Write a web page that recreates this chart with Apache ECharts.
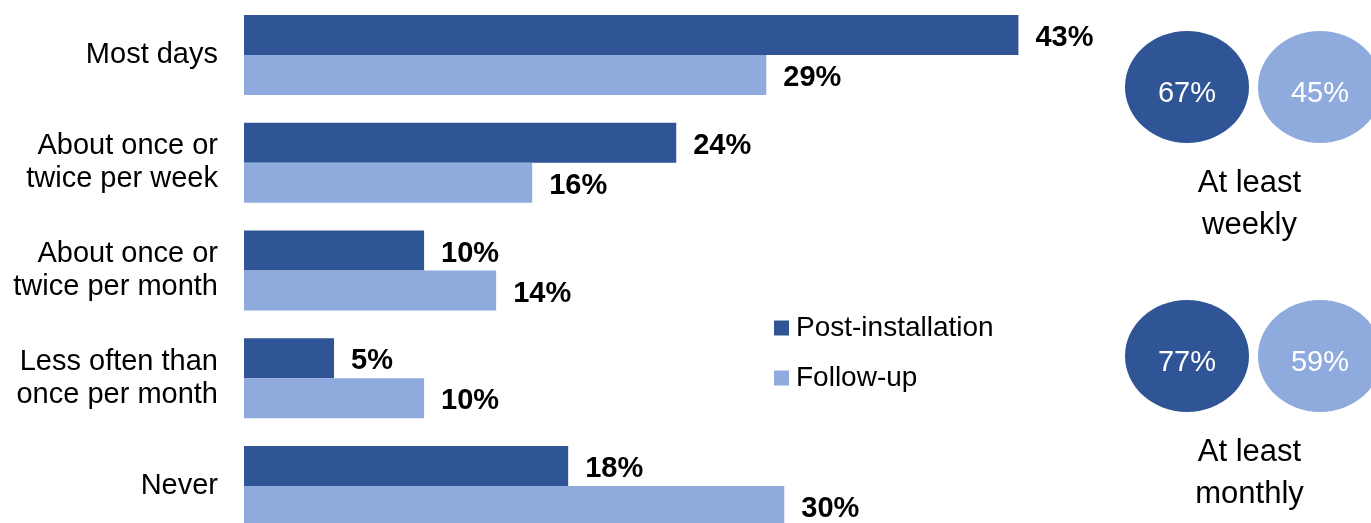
<!DOCTYPE html>
<html>
<head>
<meta charset="utf-8">
<script src="https://cdn.jsdelivr.net/npm/echarts@6/dist/echarts.min.js"></script>
<style>
  html, body { margin: 0; padding: 0; background: #ffffff; }
  #chart { width: 1371px; height: 523px; }
</style>
</head>
<body>
<div id="chart"></div>
<script>
// Frequency categories (top to bottom)
const categories = [
  'Most days',
  'About once or\ntwice per week',
  'About once or\ntwice per month',
  'Less often than\nonce per month',
  'Never'
];

// Share of respondents (%) per frequency
const postInstallation = [43, 24, 10, 5, 18];
const followUp = [29, 16, 14, 10, 30];

// Summary groups and their totals (%)
const summaryGroups = ['At least\nweekly', 'At least\nmonthly'];
const summaryPost = [67, 77];
const summaryFollow = [45, 59];

const seriesNames = ['Post-installation', 'Follow-up'];

const DARK = '#2F5597';
const LIGHT = '#8FAADC';
const FONT = '"Liberation Sans", Arial, Helvetica, sans-serif';

const chart = echarts.init(document.getElementById('chart'));

const barLabel = {
  show: true,
  position: 'right',
  distance: 17,
  offset: [0, 3],
  formatter: p => p.value + '%',
  color: '#000',
  fontFamily: FONT,
  fontWeight: 'bold',
  fontSize: 29
};

const bubbleLabel = {
  show: true,
  position: 'inside',
  offset: [0, 7],
  formatter: p => p.value[2] + '%',
  color: '#ffffff',
  fontFamily: FONT,
  fontSize: 29
};

chart.setOption({
  animation: false,
  backgroundColor: '#ffffff',
  legend: {
    data: seriesNames,
    orient: 'vertical',
    left: 774,
    top: 314,
    padding: 0,
    icon: 'rect',
    itemWidth: 15,
    itemHeight: 15,
    itemGap: 22,
    textStyle: { fontFamily: FONT, fontSize: 28, color: '#000', lineHeight: 28, padding: [0, 0, 0, 2] }
  },
  grid: [
    { left: 244, top: 1, width: 900.5, height: 539, outerBoundsMode: 'none', containLabel: false },
    { left: 1187, top: 87, width: 133, height: 269, outerBoundsMode: 'none', containLabel: false }
  ],
  xAxis: [
    {
      gridIndex: 0, type: 'value', min: 0, max: 50,
      axisLine: { show: false }, axisTick: { show: false },
      axisLabel: { show: false }, splitLine: { show: false }
    },
    {
      gridIndex: 1, type: 'category', data: seriesNames, boundaryGap: false,
      axisLine: { show: false }, axisTick: { show: false },
      axisLabel: { show: false }, splitLine: { show: false }
    }
  ],
  yAxis: [
    {
      gridIndex: 0, type: 'category', data: categories, inverse: true,
      axisLine: { show: false }, axisTick: { show: false },
      axisLabel: {
        margin: 26, color: '#000', fontFamily: FONT, fontSize: 29, lineHeight: 33,
        align: 'right', padding: [5, 0, 0, 0]
      }
    },
    {
      gridIndex: 1, type: 'category', data: summaryGroups, inverse: true, boundaryGap: false,
      axisLine: { show: false }, axisTick: { show: false },
      axisLabel: { show: false }, splitLine: { show: false }
    }
  ],
  series: [
    {
      name: seriesNames[0], type: 'bar', xAxisIndex: 0, yAxisIndex: 0,
      data: postInstallation, barWidth: 40, barGap: '0%',
      itemStyle: { color: DARK }, label: barLabel
    },
    {
      name: seriesNames[1], type: 'bar', xAxisIndex: 0, yAxisIndex: 0,
      data: followUp, barWidth: 40, barGap: '0%',
      itemStyle: { color: LIGHT }, label: barLabel
    },
    {
      name: seriesNames[0], type: 'scatter', xAxisIndex: 1, yAxisIndex: 1,
      symbol: 'circle', symbolSize: [124, 112],
      data: summaryGroups.map((g, i) => [seriesNames[0], g, summaryPost[i]]),
      itemStyle: { color: DARK, opacity: 1 }, label: bubbleLabel
    },
    {
      name: seriesNames[1], type: 'scatter', xAxisIndex: 1, yAxisIndex: 1,
      symbol: 'circle', symbolSize: [124, 112],
      data: summaryGroups.map((g, i) => [seriesNames[1], g, summaryFollow[i]]),
      itemStyle: { color: LIGHT, opacity: 1 }, label: bubbleLabel
    }
  ]
});

// Captions under each pair of circles, placed from the summary axis
const captions = summaryGroups.map((g, i) => {
  const p0 = chart.convertToPixel({ gridIndex: 1 }, [seriesNames[0], g]);
  const p1 = chart.convertToPixel({ gridIndex: 1 }, [seriesNames[1], g]);
  return {
    type: 'text',
    x: (p0[0] + p1[0]) / 2 - 4,
    y: p0[1] + 117,
    style: {
      text: g,
      fontFamily: FONT,
      fontSize: 31,
      lineHeight: 42,
      fill: '#000',
      textAlign: 'center',
      textVerticalAlign: 'middle'
    }
  };
});
chart.setOption({ graphic: captions });
</script>
</body>
</html>
